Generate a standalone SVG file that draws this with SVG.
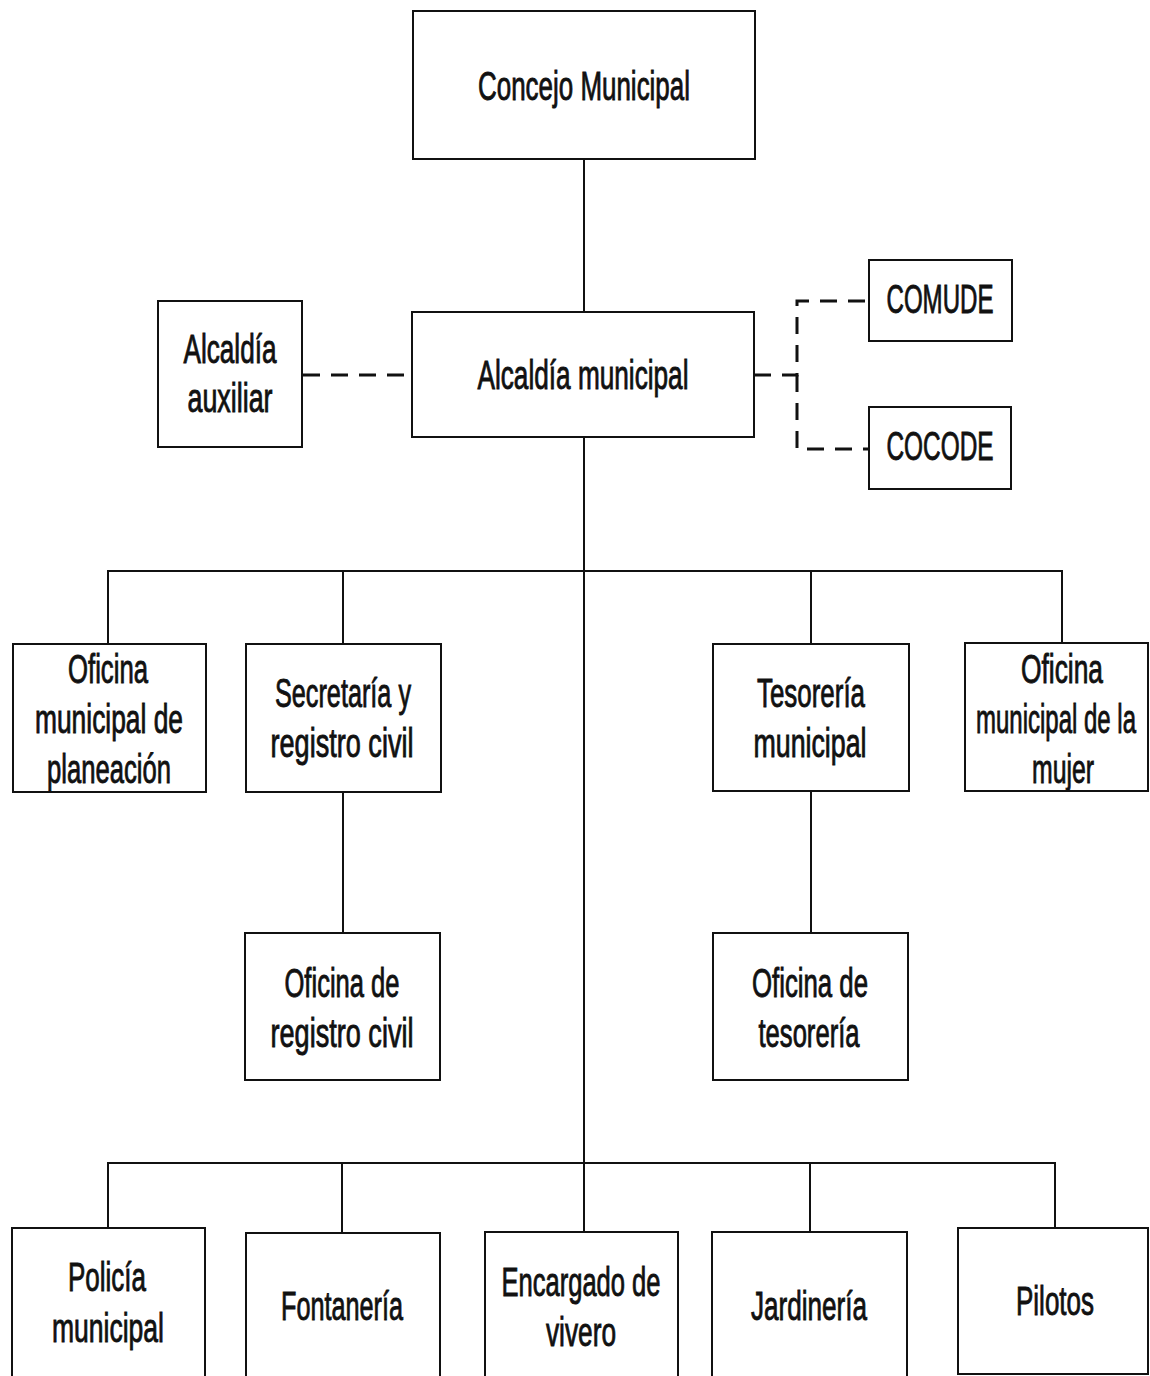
<svg xmlns="http://www.w3.org/2000/svg" width="1150" height="1376" viewBox="0 0 1150 1376">
<style>
.box{fill:#fff;stroke:#111;stroke-width:2}
.ln{fill:none;stroke:#111;stroke-width:2}
.dash{fill:none;stroke:#111;stroke-width:3;stroke-dasharray:17 11}
text{font-family:"Liberation Sans Narrow","Liberation Sans",Arial,sans-serif;font-size:40px;fill:#111;stroke:#111;stroke-width:0.9;text-anchor:middle}
</style>
<rect width="1150" height="1376" fill="#fff"/>
<g id="connectors">
<line class="ln" x1="584" y1="159" x2="584" y2="312"/>
<line class="ln" x1="584" y1="437" x2="584" y2="1232"/>
<polyline class="ln" points="108,644 108,571 1062,571 1062,644"/>
<line class="ln" x1="343" y1="571" x2="343" y2="644"/>
<line class="ln" x1="811" y1="571" x2="811" y2="644"/>
<line class="ln" x1="343" y1="792" x2="343" y2="933"/>
<line class="ln" x1="811" y1="791" x2="811" y2="933"/>
<polyline class="ln" points="108,1228 108,1163 1055,1163 1055,1228"/>
<line class="ln" x1="342" y1="1163" x2="342" y2="1233"/>
<line class="ln" x1="810" y1="1163" x2="810" y2="1232"/>
<line class="dash" x1="303" y1="375" x2="412" y2="375"/>
<path class="dash" d="M754,375 H797 V301 H869"/>
<path class="dash" d="M797,375 V449 H869"/>
</g>
<g id="concejo"><rect class="box" x="413" y="11" width="342" height="148"/><text x="584" y="100" textLength="212" lengthAdjust="spacingAndGlyphs">Concejo Municipal</text></g>
<g id="alcaldia-auxiliar"><rect class="box" x="158" y="301" width="144" height="146"/><text x="230" y="363" textLength="93" lengthAdjust="spacingAndGlyphs">Alcaldía</text><text x="230" y="412" textLength="85" lengthAdjust="spacingAndGlyphs">auxiliar</text></g>
<g id="alcaldia-municipal"><rect class="box" x="412" y="312" width="342" height="125"/><text x="583" y="389" textLength="211" lengthAdjust="spacingAndGlyphs">Alcaldía municipal</text></g>
<g id="comude"><rect class="box" x="869" y="260" width="143" height="81"/><text x="940" y="313" textLength="107" lengthAdjust="spacingAndGlyphs">COMUDE</text></g>
<g id="cocode"><rect class="box" x="869" y="407" width="142" height="82"/><text x="940" y="460" textLength="107" lengthAdjust="spacingAndGlyphs">COCODE</text></g>
<g id="planeacion"><rect class="box" x="13" y="644" width="193" height="148"/><text x="108" y="683" textLength="80" lengthAdjust="spacingAndGlyphs">Oficina</text><text x="109" y="733" textLength="148" lengthAdjust="spacingAndGlyphs">municipal de</text><text x="109" y="783" textLength="124" lengthAdjust="spacingAndGlyphs">planeación</text></g>
<g id="secretaria"><rect class="box" x="246" y="644" width="195" height="148"/><text x="343" y="707" textLength="136" lengthAdjust="spacingAndGlyphs">Secretaría y</text><text x="342" y="757" textLength="143" lengthAdjust="spacingAndGlyphs">registro civil</text></g>
<g id="tesoreria"><rect class="box" x="713" y="644" width="196" height="147"/><text x="811" y="707" textLength="108" lengthAdjust="spacingAndGlyphs">Tesorería</text><text x="810" y="757" textLength="113" lengthAdjust="spacingAndGlyphs">municipal</text></g>
<g id="mujer"><rect class="box" x="965" y="643" width="183" height="148"/><text x="1062" y="683" textLength="82" lengthAdjust="spacingAndGlyphs">Oficina</text><text x="1056" y="733" textLength="160" lengthAdjust="spacingAndGlyphs">municipal de la</text><text x="1063" y="783" textLength="62" lengthAdjust="spacingAndGlyphs">mujer</text></g>
<g id="registro-civil"><rect class="box" x="245" y="933" width="195" height="147"/><text x="342" y="997" textLength="115" lengthAdjust="spacingAndGlyphs">Oficina de</text><text x="342" y="1047" textLength="143" lengthAdjust="spacingAndGlyphs">registro civil</text></g>
<g id="oficina-tesoreria"><rect class="box" x="713" y="933" width="195" height="147"/><text x="810" y="997" textLength="116" lengthAdjust="spacingAndGlyphs">Oficina de</text><text x="809" y="1047" textLength="101" lengthAdjust="spacingAndGlyphs">tesorería</text></g>
<g id="policia"><rect class="box" x="12" y="1228" width="193" height="160"/><text x="107" y="1291" textLength="78" lengthAdjust="spacingAndGlyphs">Policía</text><text x="108" y="1342" textLength="112" lengthAdjust="spacingAndGlyphs">municipal</text></g>
<g id="fontaneria"><rect class="box" x="246" y="1233" width="194" height="160"/><text x="342" y="1320" textLength="122" lengthAdjust="spacingAndGlyphs">Fontanería</text></g>
<g id="vivero"><rect class="box" x="485" y="1232" width="193" height="160"/><text x="581" y="1296" textLength="159" lengthAdjust="spacingAndGlyphs">Encargado de</text><text x="581" y="1346" textLength="70" lengthAdjust="spacingAndGlyphs">vivero</text></g>
<g id="jardineria"><rect class="box" x="712" y="1232" width="195" height="160"/><text x="809" y="1320" textLength="116" lengthAdjust="spacingAndGlyphs">Jardinería</text></g>
<g id="pilotos"><rect class="box" x="958" y="1228" width="190" height="146"/><text x="1055" y="1315" textLength="78" lengthAdjust="spacingAndGlyphs">Pilotos</text></g>
</svg>
